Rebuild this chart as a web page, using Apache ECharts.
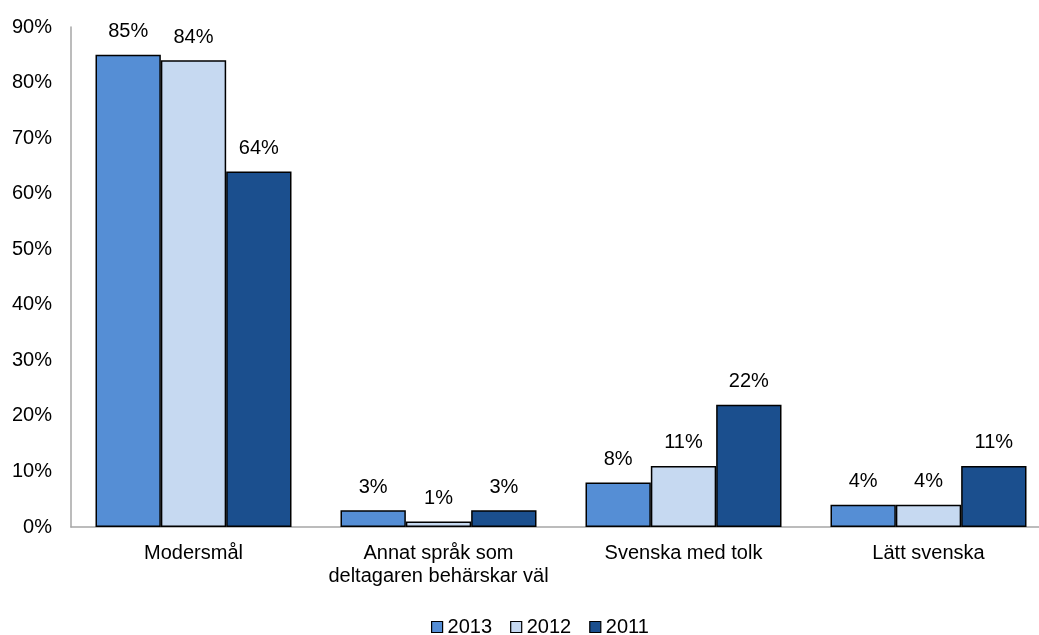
<!DOCTYPE html>
<html><head><meta charset="utf-8">
<script src="https://cdn.jsdelivr.net/npm/echarts@6/dist/echarts.min.js"></script>
<style>html,body{margin:0;padding:0;background:#fff}#c{width:1039px;height:635px}</style>
</head><body><div id="c"></div>
<script>
const categories = ['Modersmål', 'Annat språk som\ndeltagaren behärskar väl', 'Svenska med tolk', 'Lätt svenska'];
const seriesNames = ['2013', '2012', '2011'];
const values2013 = [85, 3, 8, 4];
const values2012 = [84, 1, 11, 4];
const values2011 = [64, 3, 22, 11];
const colors = ['#558ED5', '#C6D9F1', '#1B4F8E'];
const font = 'Liberation Sans, Arial, sans-serif';
const chart = echarts.init(document.getElementById('c'));
const data = [values2013, values2012, values2011];
chart.setOption({
  animation: false,
  grid: { left: 71, top: 27, width: 980, height: 500, containLabel: false, outerBoundsMode: 'none' },
  legend: {
    top: 612, left: 426, itemWidth: 11, itemHeight: 11, itemGap: 18,
    icon: 'rect',
    textStyle: { fontFamily: font, fontSize: 20, color: '#000' },
    data: seriesNames.map((n, i) => ({ name: n, itemStyle: { color: colors[i], borderColor: '#000', borderWidth: 1.2 } }))
  },
  xAxis: {
    type: 'category', data: categories,
    axisLine: { lineStyle: { color: '#A6A6A6', width: 1.5 } },
    axisTick: { show: false },
    axisLabel: { interval: 0, fontFamily: font, fontSize: 20, color: '#000', margin: 15, lineHeight: 23 }
  },
  yAxis: {
    type: 'value', min: 0, max: 90, interval: 10,
    splitLine: { show: false },
    axisLine: { show: true, lineStyle: { color: '#A6A6A6', width: 1.5 } },
    axisTick: { show: false },
    axisLabel: { fontFamily: font, fontSize: 20, color: '#000', margin: 19, formatter: v => v + '%' }
  },
  series: seriesNames.map((n, i) => ({
    name: n, type: 'bar', data: data[i],
    barGap: '0%', barCategoryGap: '20%',
    itemStyle: { color: colors[i], borderColor: '#000', borderWidth: 1.5 },
    label: { show: true, position: 'top', distance: 13, formatter: p => p.value + '%', fontFamily: font, fontSize: 20, color: '#000' }
  }))
});
</script></body></html>
